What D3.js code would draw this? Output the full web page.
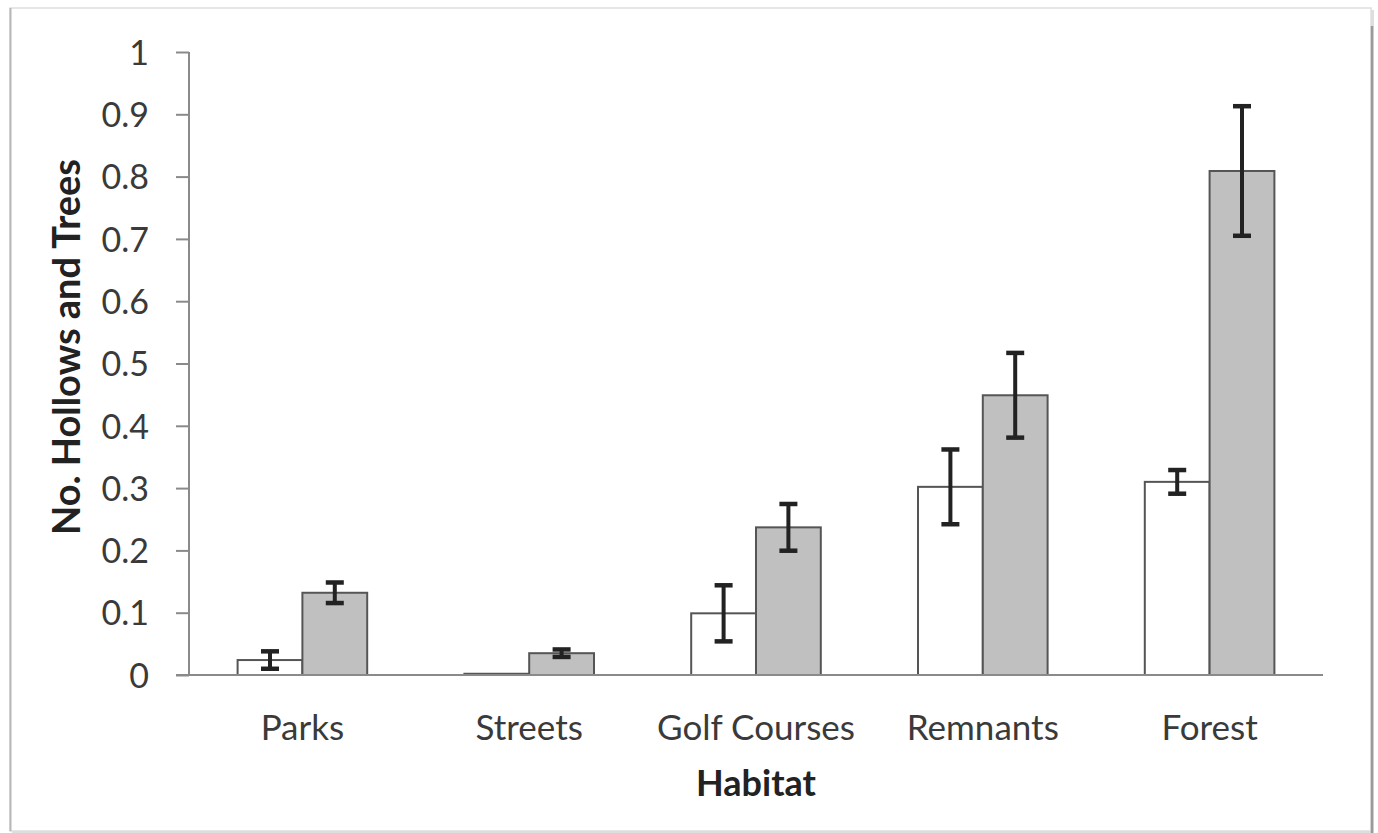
<!DOCTYPE html>
<html>
<head>
<meta charset="utf-8">
<script src="https://cdn.jsdelivr.net/npm/d3@7"></script>
<style>
  html, body { margin: 0; padding: 0; background: #fff; }
  svg { display: block; }
  text { font-family: Lato, "Open Sans", sans-serif; }
</style>
</head>
<body>
<svg id="chart" width="1378" height="833"></svg>
<script>
// Habitat categories and the two measured series (mean ± error)
const habitats = ["Parks", "Streets", "Golf Courses", "Remnants", "Forest"];
const hollows = [0.024, 0.002, 0.099, 0.302, 0.310];
const hollowsErr = [0.014, 0.0, 0.045, 0.060, 0.019];
const trees = [0.132, 0.035, 0.237, 0.449, 0.809];
const treesErr = [0.0165, 0.006, 0.0375, 0.068, 0.104];
const yTicks = [0, 0.1, 0.2, 0.3, 0.4, 0.5, 0.6, 0.7, 0.8, 0.9, 1];
const yTitle = "No. Hollows and Trees";
const xTitle = "Habitat";

const series = [
  { key: "hollows", values: hollows, err: hollowsErr, fill: "#ffffff" },
  { key: "trees", values: trees, err: treesErr, fill: "#c0c0c0" }
];

const svg = d3.select("#chart");

// outer chart frame with a soft drop shadow on the right and bottom
const frame = svg.append("g");
frame.append("rect").attr("x", 12).attr("y", 10).attr("width", 1362).attr("height", 823)
  .attr("fill", "#c8c8c8").attr("opacity", 0.6);
frame.append("rect").attr("x", 10).attr("y", 8).attr("width", 1361).attr("height", 823)
  .attr("fill", "#fff").attr("stroke", "#dedede").attr("stroke-width", 1.5);
frame.append("line").attr("x1", 10.5).attr("x2", 10.5).attr("y1", 8).attr("y2", 831)
  .attr("stroke", "#b8b8b8").attr("stroke-width", 2);
frame.append("line").attr("x1", 1372).attr("x2", 1372).attr("y1", 26).attr("y2", 833)
  .attr("stroke", "#9a9a9a").attr("stroke-width", 2.5);

const plot = { left: 189, right: 1323, top: 52, bottom: 675 };

const x = d3.scaleBand().domain(habitats).range([plot.left, plot.right]).paddingInner(0).paddingOuter(0);
// two bars per group with a 150% gap between groups
const barW = x.bandwidth() / 3.5;
const xs = d3.scaleBand().domain(series.map(s => s.key))
  .range([x.bandwidth() / 2 - barW, x.bandwidth() / 2 + barW]);

const y = d3.scaleLinear().domain([0, 1]).range([plot.bottom, plot.top]);

// y axis
const yAxis = svg.append("g").attr("transform", `translate(${plot.left},0)`)
  .call(d3.axisLeft(y).tickValues(yTicks).tickSize(13).tickPadding(27)
    .tickFormat(d => d3.format("")(+d.toFixed(1))));
yAxis.select(".domain").attr("stroke", "#8a8a8a").attr("stroke-width", 2).attr("d", `M0,${plot.top}V${plot.bottom}`);
yAxis.selectAll(".tick line").attr("stroke", "#8a8a8a").attr("stroke-width", 2);
yAxis.selectAll(".tick text").attr("fill", "#3a3a3a").attr("font-size", 34)
  .attr("font-family", "Lato, 'Open Sans', sans-serif").attr("dy", "0.36em");

// bars
const groups = svg.append("g").selectAll("g").data(habitats).join("g")
  .attr("transform", d => `translate(${x(d)},0)`);

series.forEach(s => {
  groups.append("rect")
    .attr("x", xs(s.key))
    .attr("width", xs.bandwidth())
    .attr("y", (d, i) => y(s.values[i]))
    .attr("height", (d, i) => y(0) - y(s.values[i]))
    .attr("fill", s.fill)
    .attr("stroke", "#555")
    .attr("stroke-width", 2);
});

// error bars
series.forEach(s => {
  const eb = groups.append("g").attr("transform", `translate(${xs(s.key) + xs.bandwidth() / 2},0)`)
    .filter((d, i) => s.err[i] > 0);
  const v = d => s.values[habitats.indexOf(d)];
  const e = d => s.err[habitats.indexOf(d)];
  eb.append("line")
    .attr("y1", d => y(v(d) + e(d)))
    .attr("y2", d => y(v(d) - e(d)))
    .attr("stroke", "#222").attr("stroke-width", 4);
  [1, -1].forEach(sign => {
    eb.append("line").attr("x1", -9).attr("x2", 9)
      .attr("y1", d => y(v(d) + sign * e(d)))
      .attr("y2", d => y(v(d) + sign * e(d)))
      .attr("stroke", "#222").attr("stroke-width", 4.5);
  });
});

// x axis (baseline)
const xAxis = svg.append("g").attr("transform", `translate(0,${plot.bottom})`)
  .call(d3.axisBottom(x).tickSize(0).tickPadding(40));
xAxis.select(".domain").attr("stroke", "#8a8a8a").attr("stroke-width", 2)
  .attr("d", `M${plot.left - 13},0H${plot.right}`);
xAxis.selectAll(".tick text").attr("fill", "#3a3a3a").attr("font-size", 35)
  .attr("font-family", "Lato, 'Open Sans', sans-serif");

// axis titles
svg.append("text").attr("transform", `translate(80,347) rotate(-90)`)
  .attr("text-anchor", "middle").attr("font-weight", "bold").attr("font-size", 38)
  .attr("fill", "#222").text(yTitle);
svg.append("text").attr("x", 756).attr("y", 796)
  .attr("text-anchor", "middle").attr("font-weight", "bold").attr("font-size", 36)
  .attr("fill", "#222").text(xTitle);
</script>
</body>
</html>
